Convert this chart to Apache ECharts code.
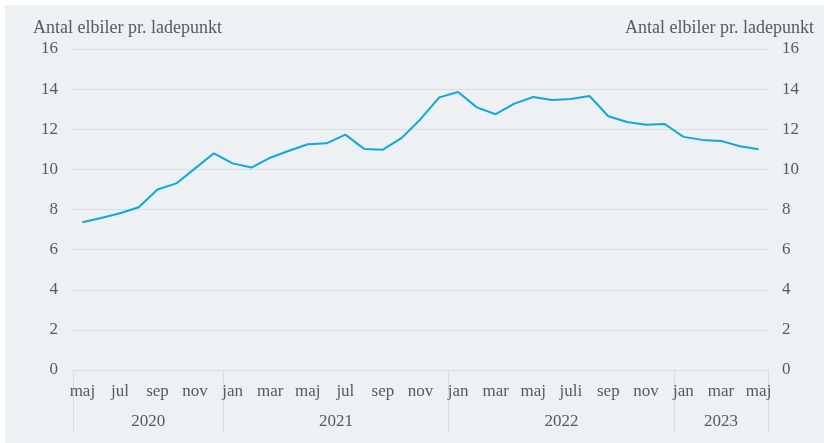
<!DOCTYPE html>
<html lang="da">
<head>
    <meta charset="UTF-8">
    <title>Antal elbiler pr. ladepunkt</title>
    <script src="https://cdn.jsdelivr.net/npm/echarts/dist/echarts.min.js"></script>
    <style>
        html, body { margin: 0; padding: 0; background: #fff; }
        #main { width: 824px; height: 443px; }
    </style>
</head>
<body>
    <div id="main"></div>
    <script>
        // maaneder fra maj 2020 til maj 2023
        var months = ['maj', 'jun', 'jul', 'aug', 'sep', 'okt', 'nov', 'dec',
            'jan', 'feb', 'mar', 'apr', 'maj', 'jun', 'jul', 'aug', 'sep', 'okt', 'nov', 'dec',
            'jan', 'feb', 'mar', 'apr', 'maj', 'jun', 'juli', 'aug', 'sep', 'okt', 'nov', 'dec',
            'jan', 'feb', 'mar', 'apr', 'maj'];
        var years = ['2020', '2021', '2022', '2023'];
        var monthsPerYear = [8, 12, 12, 5];
        var evPerCharger = [7.36, 7.58, 7.81, 8.11, 9.0, 9.3, 10.05, 10.8,
            10.3, 10.09, 10.58, 10.93, 11.25, 11.3, 11.73, 11.02, 10.98, 11.57, 12.5, 13.59,
            13.86, 13.09, 12.75, 13.28, 13.61, 13.46, 13.51, 13.66, 12.65, 12.36, 12.23, 12.26,
            11.62, 11.47, 11.42, 11.15, 11.0];
        var axisName = 'Antal elbiler pr. ladepunkt';

        // graenser og midtpunkt for hvert aar (i maaneder)
        var yearBounds = [0];
        var yearCenters = [];
        var acc = 0;
        monthsPerYear.forEach(function (n) {
            yearCenters.push(acc + n / 2);
            acc += n;
            yearBounds.push(acc);
        });

        var font = 'Liberation Serif';
        var textColor = '#595959';
        var gridColor = '#d9dde1';

        var myChart = echarts.init(document.getElementById('main'));

        var option = {
            graphic: [{
                type: 'rect',
                z: -10,
                shape: { x: 5, y: 5, width: 819, height: 438 },
                style: { fill: '#edf1f4' }
            }],
            title: [{
                text: axisName,
                left: 28, top: 14,
                textStyle: { fontFamily: font, fontSize: 18, fontWeight: 'normal', color: textColor }
            }, {
                text: axisName,
                right: 5, top: 14,
                textStyle: { fontFamily: font, fontSize: 18, fontWeight: 'normal', color: textColor }
            }],
            grid: { left: 73, right: 56, top: 49, bottom: 73 },
            xAxis: [{
                type: 'category',
                data: months,
                boundaryGap: true,
                axisLine: { lineStyle: { color: gridColor } },
                axisTick: { show: false },
                axisLabel: {
                    interval: function (index) { return index % 2 === 0; },
                    margin: 13,
                    fontFamily: font, fontSize: 17, color: textColor
                }
            }, {
                type: 'value',
                position: 'bottom',
                min: 0, max: months.length,
                axisLine: { show: false },
                splitLine: { show: false },
                axisTick: {
                    show: true,
                    length: 62,
                    customValues: yearBounds,
                    lineStyle: { color: gridColor }
                },
                axisLabel: {
                    margin: 43,
                    customValues: yearCenters,
                    fontFamily: font, fontSize: 17, color: textColor,
                    formatter: function (v) {
                        var i = yearCenters.indexOf(v);
                        return i >= 0 ? years[i] : '';
                    }
                }
            }],
            yAxis: [{
                type: 'value',
                min: 0, max: 16, interval: 2,
                axisLine: { show: false },
                axisTick: { show: false },
                splitLine: { lineStyle: { color: gridColor } },
                axisLabel: { margin: 15, fontFamily: font, fontSize: 17, color: textColor }
            }, {
                type: 'value',
                position: 'right',
                min: 0, max: 16, interval: 2,
                axisLine: { show: false },
                axisTick: { show: false },
                splitLine: { show: false },
                axisLabel: { margin: 14, fontFamily: font, fontSize: 17, color: textColor }
            }],
            series: [{
                type: 'line',
                data: evPerCharger,
                showSymbol: false,
                lineStyle: { color: '#12a6de', width: 2 },
                itemStyle: { color: '#12a6de' },
                animation: false
            }]
        };

        myChart.setOption(option);
    </script>
</body>
</html>
